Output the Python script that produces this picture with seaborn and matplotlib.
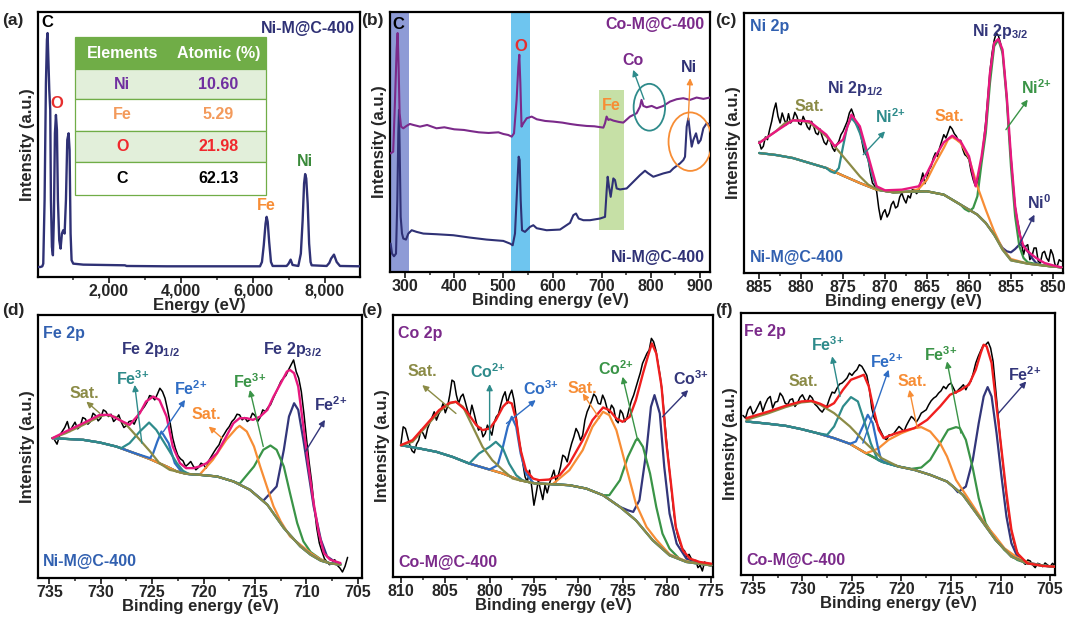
import numpy as np
import matplotlib
matplotlib.use("Agg")
import matplotlib.pyplot as plt
import seaborn as sns
from matplotlib.patches import Ellipse, Rectangle
from matplotlib.ticker import MultipleLocator, FuncFormatter

# ======================= DATA =======================
# (a) EDS spectrum
eds_energy = [37,100,150,176,213,250,278,296,324,343,370,389,417,444,472,500,528,556,583,620,657,694,731,769,806,
              843,880,907,935,963,1009,1287,2444,2490,3600,6195,6250,6300,6350,6380,6410,6450,6500,6547,6936,6990,
              7047,7100,7260,7330,7380,7420,7450,7480,7520,7560,7600,7630,8047,8120,8170,8250,8325,8417,8973]
eds_counts = [30,30,32,40,230,580,710,730,630,560,500,230,90,65,180,430,485,440,230,110,85,130,140,130,230,
              410,430,380,130,50,40,37,35,33,32,32,45,95,160,180,165,105,45,33,33,40,
              52,36,33,70,170,280,308,295,220,100,45,35,33,42,55,67,45,33,32]
eds_elements = ["Ni", "Fe", "O", "C"]
eds_atomic = ["10.60", "5.29", "21.98", "62.13"]

# (b) XPS survey
co_be = [270.8,276,279.7,283,285,287,289,292,296.6,303,310,317,330.5,345,364,380,400,420,432,450,470,490,500,510,517,
         521.7,527,530.5,532.5,534.6,537,540.7,547.5,557.6,568,585,601.7,620,635.6,650,669.5,685,703.4,706.8,710,
         713.6,717,723.7,735,744,757.6,771,778,781,784.7,791.5,801.7,812,825.4,839,852.5,866,879.7,893,906.8,920]
co_int = [355,360,515,665,715,615,475,435,430,437,443,440,435,440,430,433,427,425,422,418,416,418,413,410,405,
          415,515,615,650,565,435,445,460,465,457,452,450,447,443,440,437,436,432,445,465,
          455,457,453,449,447,465,475,495,515,497,493,497,490,497,510,517,520,515,522,518,522]
ni_be = [270.8,273.6,277.6,281.7,284.4,286.4,287.8,289.2,291.2,293.9,296.6,302,306.8,313.6,323.7,337.3,364.4,398.3,
         432.2,466.1,500,513.6,519,523.7,528.5,531.2,533.2,535.3,538,544,554.2,561,567.8,588,615.3,635.6,642.4,
         647.8,653.2,662.7,676.3,696.6,706.8,710.2,712.2,714.9,718.3,723.7,727.1,730.5,737.3,750.8,764.4,778,788.1,
         794.9,805,825.4,839,845.8,859.3,866.1,869.5,872.9,876.3,879.7,883.1,886.4,891.9,896.6,901.4,906.8,913.6,920.3]
ni_int = [85,55,47,55,215,415,485,365,165,115,100,97,115,125,120,115,113,110,
          103,97,93,85,80,115,265,345,335,215,125,120,135,140,131,125,127,147,170,
          175,160,155,155,160,165,245,285,255,225,280,275,250,247,250,270,290,303,
          295,285,295,300,310,325,335,345,435,460,415,375,395,415,385,395,430,445,442]

# (c) Ni 2p (Ni-M@C-400), raw data every 0.25 eV from 885 down to 849
c_raw_x = np.arange(885, 848.9, -0.25)
c_raw_y = [395,372,380,408,400,430,455,488, 510,470,450,480,460,445,478,450,
           458,482,470,448,445,470,455,438, 430,455,440,420,415,432,410,392,
           385,402,395,375,365,385,395,415, 425,440,455,480,492,475,448,440,
           430,395,362,355,340,300,270,262, 245,195,160,180,190,168,180,205,
           215,195,200,228,240,222,210,232, 225,250,250,238,245,275,300,268,
           285,310,320,345,360,350,375,395, 415,405,422,440,432,418,410,395,
           398,372,355,350,340,305,280,262, 270,300,340,395,455,530,605,660,
           698,720,712,690,660,600,525,430, 350,270,200,160,130,90,55,80,
           85,40,50,75,75,35,30,60, 65,45,35,70,55,25,20,40, 35]
c_bg_x = [885,883,881,879,877,875,873,871,869,867,865,863,861,859,858,857,856,855,853,851,849]
c_bg_y = [360,354,345,330,315,292,270,250,242,244,245,235,205,175,150,115,70,38,28,22,17]
c_sat1_x = [885,884,883,882,881,880,879,878,877,876,875,874,873,872,871,870]
c_sat1_y = [390,408,425,448,458,458,450,432,410,380,350,320,290,265,252,246]
c_ni2a_x = [876.5,876,875.5,875,874.5,874,873.5,873,872.5,872,871.5,871,870.5]
c_ni2a_y = [305,300,315,380,440,465,450,420,380,340,290,258,248]
c_sat2_x = [866,865,864,863,862.5,862,861.5,861,860,859,858,857,856,855]
c_sat2_y = [252,280,330,375,400,408,400,390,345,260,190,125,72,42]
c_ni2b_x = [860.5,860,859.5,859,858.5,858,857.5,857,856.5,856,855.5,855,854.5,854,853.5,853]
c_ni2b_y = [192,185,195,230,330,420,570,680,700,660,520,320,170,80,45,32]
c_ni0_x = [856,855.5,855,854.5,854,853.5,853,852.5,852,851.5]
c_ni0_y = [75,65,62,72,85,82,65,45,30,25]
c_env_x = [885,883,881,879,877,876,875,874,873,872,871,870,868,866,865,864,863,862,861,860,859.2,858.5,858,
           857.5,857,856.5,856,855.5,855,854.5,854,853.5,853,852,851,850,849]
c_env_y = [390,425,458,455,415,380,400,475,440,350,260,248,250,260,300,350,392,412,395,350,260,350,440,
           600,690,702,670,530,350,200,120,80,65,45,30,23,17]

# (d) Fe 2p (Ni-M@C-400), raw data every 0.25 eV from 734.5 down to 706
d_raw_x = np.arange(734.5, 705.9, -0.25)
d_raw_y = [415,402,428,440,452,470,440,455, 468,448,455,482,478,462,470,495,
           488,472,480,505,500,485,492,470, 478,490,468,452,458,470,472,462,
           480,498,505,515,528,548,545,535, 552,570,560,540,505,465,420,390,
           368,358,352,335,342,350,336,325, 332,345,340,330,352,365,378,390,
           400,420,432,445,455,470,478,492, 490,475,482,470,476,495,488,470,
           482,505,500,512,520,538,555,572, 590,600,608,625,640,655,620,600,
           560,495,420,350,290,215,150,105, 80,58,48,40,45,55,38,30, 18,35,62]
d_bg_x = [734.7,731.7,730.1,728.5,726.9,725.2,723.6,722.6,721.7,720.4,718.7,717.1,715.5,713.8,712.2,710.6,709.6,708.6,707.7,706.7]
d_bg_y = [420,415,407,395,377,357,335,320,313,310,305,290,265,220,150,95,70,52,44,40]
d_sat1_x = [734.7,733.4,731.7,730.1,729.5,728.5,727.5,726.2,725.2,724.3,723.3,722.6]
d_sat1_y = [420,435,460,485,490,483,460,415,380,345,325,320]
d_fe3a_x = [728,727.2,726.2,725.3,724.6,723.6,722.6,722,721.4]
d_fe3a_y = [390,405,440,467,445,395,345,322,312]
d_fe2a_x = [725.2,724.9,724.5,724.1,723.4,722.8,722.1,721.5]
d_fe2a_y = [360,375,410,440,405,345,317,312]
d_sat2_x = [720.4,719.1,717.8,716.8,716.5,715.8,715.1,714.5,713.8,713.2,712.5,711.6,710.6,709.6,708.6]
d_sat2_y = [310,355,415,450,457,440,395,335,270,215,170,125,100,75,55]
d_fe3b_x = [716.5,715.1,714.2,713.5,712.9,712.2,711.6,710.9,710.3,709.6,708.6]
d_fe3b_y = [283,335,385,398,385,335,255,165,110,78,56]
d_fe2b_x = [714.2,712.9,712.2,711.7,711.2,710.8,710.3,709.8,709.3,708.6,708,707.3,706.7]
d_fe2b_y = [232,275,385,485,525,505,415,315,215,115,65,50,43]
d_env_x = [734.7,733.4,731.7,730.1,729.1,728.2,727.2,726.2,725.6,724.9,724.3,723.6,723,722.3,721.7,721,720.4,
           719.7,718.7,717.8,717.1,716.5,715.8,715.2,714.5,713.8,713.2,712.5,711.9,711.6,711.2,710.8,710.3,
           709.8,709.3,708.8,708.3,707.7,706.7]
d_env_y = [420,440,465,490,490,475,460,495,530,545,535,485,395,345,330,330,335,
           345,375,425,465,480,480,475,485,505,545,585,620,625,615,575,455,
           335,225,135,75,55,45]

# (e) Co 2p (Co-M@C-400), raw data every 0.25 eV from 810 down to 775.5
e_raw_x = np.arange(810, 775.4, -0.25)
e_raw_y = [400,450,445,420,395,378,372,398, 410,440,430,415,445,462,478,495,
           470,488,500,520,492,510,545,590, 585,545,520,540,548,525,500,480,
           515,490,462,440,448,420,430,455, 440,425,462,480,488,515,540,555,
           520,545,560,530,480,420,385,340, 300,285,320,270,215,250,290,260,
           232,275,252,280,300,320,285,305, 330,365,360,345,375,400,420,445,
           432,410,425,470,495,510,528,548, 540,520,518,545,530,505,492,515,
           505,470,462,500,490,465,478,505, 528,545,568,590,612,640,655,670,
           680,715,705,680,640,600,545,470, 395,330,268,200,150,120,100,85,
           78,60,68,55,42,50,28,35, 18,45,40]
e_bg_x = [810,807.9,806,804.2,802.3,800.4,798.5,796.6,794.8,792.9,791,789.1,787.2,785.3,783.5,781.6,779.7,777.8,775.9,775]
e_bg_y = [395,385,375,360,340,325,310,290,280,278,275,265,245,210,170,110,65,45,38,35]
e_sat1_x = [810,808.7,807.2,805.7,804.5,803.8,803,801.9,800.8,799.7,798.5,797.4,796.6]
e_sat1_y = [395,405,450,495,520,525,510,450,390,350,320,295,290]
e_co2a_x = [802.3,801.2,800,799.3,798.5,797.8,797,796.3,795.6]
e_co2a_y = [340,370,390,405,385,340,305,290,284]
e_co3a_x = [800,799.1,798.5,797.96,797.5,797,796.5,795.9,795.1]
e_co3a_y = [322,335,390,450,480,450,370,310,283]
e_sat2_x = [792.9,791,789.5,788.4,787.2,786.5,785.7,785,784.2,783.5,782.3,781.2,779.7,777.8]
e_sat2_y = [278,320,380,450,495,485,440,370,290,220,150,112,68,47]
e_co2b_x = [787.2,786.5,785.3,784.4,783.5,783.3,782.7,781.9,781.2,780.5,779.7,778.6,777.8]
e_co2b_y = [245,245,290,360,410,415,390,310,210,130,85,55,47]
e_co3b_x = [784.4,783.8,783.1,782.3,781.8,781.4,780.8,780.3,779.7,778.9,777.8,776.7]
e_co3b_y = [200,195,230,380,510,545,490,330,190,100,55,45]
e_env_x = [810,808.7,807.2,805.7,804.5,803.8,802.7,801.5,800.8,800,799.3,798.5,797.96,797.5,797,796.5,795.9,
           795.1,794.4,793.3,792.1,791,789.5,788.4,787.2,786.5,785.7,785,784.2,783.5,782.7,782.1,781.7,781.2,
           780.6,780.1,779.5,779,778.2,777.4,776.3,775]
e_env_y = [395,410,455,500,522,525,500,455,440,445,470,510,525,520,470,380,320,
           295,290,292,305,340,410,470,508,500,475,465,480,530,610,665,700,670,
           570,410,270,150,80,55,45,40]

# (f) Fe 2p (Co-M@C-400), raw data every 0.25 eV from 736 down to 704.5
f_raw_x = np.arange(736, 704.4, -0.25)
f_raw_y = [478,470,495,505,482,490,505,520, 490,512,528,535,500,518,520,545,
           535,515,510,525,528,505,515,532, 540,525,520,538,530,512,505,495,
           488,500,508,530,548,545,560,572, 575,582,590,605,598,608,615,630,
           625,612,598,560,500,470,455,440, 425,410,405,420,418,425,435,445,
           438,430,448,462,475,468,458,470, 485,490,495,510,522,530,535,545,
           552,565,558,570,575,560,545,555, 562,570,555,572,580,605,635,655,
           672,688,690,698,680,640,560,480, 400,330,262,200,150,110,82,65,
           52,40,32,45,42,30,22,35, 32,25,36,30,25,35,28]
f_bg_x = [735.65,733.4,731.7,730.1,728.5,726.8,725.2,723.6,722,720.3,718.7,717.1,715.4,713.8,712.2,710.5,708.9,707.3,705.7,704.5]
f_bg_y = [460,453,447,437,425,410,393,365,340,325,315,300,280,240,175,105,55,35,28,25]
f_sat1_x = [735.65,733.4,731.7,730.1,729.1,728.2,726.8,725.2,723.6,722,721,720.3]
f_sat1_y = [465,485,503,517,520,510,485,445,395,350,335,325]
f_fe3a_x = [727.5,726.8,725.9,725.1,724.4,723.8,723.1,722.4,721.9]
f_fe3a_y = [420,445,505,533,520,465,395,345,338]
f_fe2a_x = [725.2,724.6,723.9,723.4,722.9,722.4,722.1,721.8]
f_fe2a_y = [393,400,445,480,455,385,350,338]
f_sat2_x = [723.6,722.9,722.3,721.3,720,718.7,718,717.1,716.1,715.4,714.5,713.5,712.5,711.5,710.5,709.6,708.3,707]
f_sat2_y = [365,372,380,405,425,440,443,430,395,355,285,240,195,150,115,80,52,35]
f_fe3b_x = [719,718,717.1,716.1,715.3,714.5,714.1,713.5,712.8,712.2,711.5,710.5,709.6,708.3]
f_fe3b_y = [318,322,345,395,435,443,440,405,320,230,155,108,75,45]
f_fe2b_x = [714.8,714.3,713.5,712.8,712.2,711.7,711.3,710.9,710.4,709.9,709.4,708.9,708.3,707.3]
f_fe2b_y = [265,248,265,345,455,535,563,535,425,295,175,95,55,38]
f_env_x = [735.65,733.4,731.7,730.1,729.1,728.2,727.5,726.8,725.9,725.1,724.2,723.8,723.3,722.8,722.3,721.8,
           721,720,718.7,717.4,716.1,715.1,714.1,713.2,712.5,712,711.7,711.4,710.9,710.4,709.9,709.4,708.9,
           708.3,707.3,705.7,704.5]
f_env_y = [470,490,507,520,522,513,503,515,555,585,595,600,565,495,435,410,
           420,430,440,465,505,540,553,570,615,665,690,685,635,505,375,245,135,
           65,35,27,25]

# ======================= STYLE =======================
sns.set_style("ticks")
plt.rcParams.update({
    "font.family": ["Liberation Sans", "DejaVu Sans"],
    "font.weight": "bold",
    "axes.labelweight": "bold",
    "font.size": 11,
    "mathtext.fontset": "custom",
    "mathtext.rm": "Liberation Sans:bold",
    "mathtext.bf": "Liberation Sans:bold",
    "mathtext.it": "Liberation Sans:bold:italic",
    "mathtext.sf": "Liberation Sans:bold",
})

NAVY = "#2F3175"; PURPLE = "#7B2A8A"; OLIVE = "#8B8B46"; TEAL = "#2E8B8B"
BLUE = "#2F6DC4"; ORANGE = "#F78D35"; GREEN = "#3A9447"; PINK = "#E8187F"
RED = "#F01F1F"; LBLUE = "#3160B0"; DNAVY = "#33367A"
FS = 11.5      # annotation size
TFS = 11.5     # tick label size
LFS = 12       # axis label size

W, H = 1065, 617
fig = plt.figure(figsize=(W / 100, H / 100), dpi=100)


def add_ax(l, t, r, b):
    return fig.add_axes([l / W, 1 - b / H, (r - l) / W, (b - t) / H])


def draw(ax, x, y, color, lw=1.6, z=3):
    sns.lineplot(x=np.asarray(x, float), y=np.asarray(y, float), ax=ax, color=color,
                 linewidth=lw, estimator=None, sort=False, zorder=z, legend=False)


def comp(bx, by, px, py):
    bx, by, px, py = (np.asarray(v, float) for v in (bx, by, px, py))
    m = (bx > px.max()) | (bx < px.min())
    x = np.concatenate([bx[m], px]); y = np.concatenate([by[m], py])
    o = np.argsort(x)
    return x[o], y[o]


def setup(ax, xlim, ylim, major, minor, xlabel):
    ax.set_xlim(*xlim); ax.set_ylim(*ylim)
    ax.xaxis.set_major_locator(MultipleLocator(major))
    ax.xaxis.set_minor_locator(MultipleLocator(minor))
    ax.set_yticks([])
    ax.tick_params(axis="x", which="major", direction="out", length=4, width=1.3, labelsize=TFS, pad=1)
    ax.tick_params(axis="x", which="minor", direction="out", length=2.5, width=1.1)
    for lab in ax.get_xticklabels():
        lab.set_fontweight("bold")
    ax.set_xlabel(xlabel, fontsize=LFS, fontweight="bold", labelpad=-1)
    ax.set_ylabel("Intensity (a.u.)", fontsize=LFS, fontweight="bold", labelpad=2)
    for s in ax.spines.values():
        s.set_linewidth(1.6); s.set_color("black"); s.set_visible(True)


def arrow(ax, tail, head, color, lw=1.0):
    ax.annotate("", xy=head, xytext=tail,
                arrowprops=dict(arrowstyle="-|>", color=color, lw=lw, mutation_scale=9,
                                shrinkA=0, shrinkB=0), zorder=6)


def txt(ax, x, y, s, color, size=FS, ha="center", va="center", trans=None):
    kw = dict(color=color, fontsize=size, fontweight="bold", ha=ha, va=va, zorder=7)
    if trans is not None:
        kw["transform"] = trans
    ax.text(x, y, s, **kw)


def ion(el, charge):
    return el + r"$^{" + charge[:-1] + "{" + charge[-1] + "}}$"


# ======================= (a) =======================
axa = add_ax(38, 12, 360, 277)
draw(axa, eds_energy, eds_counts, NAVY, lw=1.7)
setup(axa, (30, 8973), (0, 793), 2000, 1000, "Energy (eV)")
axa.xaxis.set_major_formatter(FuncFormatter(lambda v, p: f"{int(v):,}"))
for lab in axa.get_xticklabels():
    lab.set_fontweight("bold")
txt(axa, 296, 762, "C", "black", 12)
txt(axa, 565, 518, "O", "#E62E2E", 12)
txt(axa, 6380, 215, "Fe", ORANGE)
txt(axa, 7445, 345, "Ni", "#3A8A3A")
txt(axa, 0.984, 0.936, "Ni-M@C-400", NAVY, ha="right", trans=axa.transAxes)

tx0, tx1 = 0.114, 0.707
edges = [0.905, 0.784, 0.672, 0.551, 0.433, 0.311]
fills = ["#70AD47", "#E2EFDA", "white", "#E2EFDA", "white"]
for i in range(5):
    axa.add_patch(Rectangle((tx0, edges[i + 1]), tx1 - tx0, edges[i] - edges[i + 1],
                            transform=axa.transAxes, facecolor=fills[i], edgecolor="#70AD47",
                            lw=0.9, zorder=5))
colc1, colc2 = 0.262, 0.56
hy = (edges[0] + edges[1]) / 2
txt(axa, colc1, hy, "Elements", "white", 11.5, trans=axa.transAxes)
txt(axa, colc2, hy, "Atomic (%)", "white", 11.5, trans=axa.transAxes)
el_colors = ["#7030A0", "#F39A5B", "#F0282D", "black"]
for i, (el, at) in enumerate(zip(eds_elements, eds_atomic)):
    yy = (edges[i + 1] + edges[i + 2]) / 2
    txt(axa, colc1, yy, el, el_colors[i], 11.5, trans=axa.transAxes)
    txt(axa, colc2, yy, at, el_colors[i], 11.5, trans=axa.transAxes)

# ======================= (b) =======================
axb = add_ax(390, 12, 710, 272)
axb.axvspan(269.5, 308, color="#8E9BD6", zorder=0, lw=0)
axb.axvspan(516, 554, color="#6EC5EF", zorder=0, lw=0)
axb.add_patch(Rectangle((695, 127), 50, 418, facecolor="#C6E0A6", edgecolor="none", zorder=0))
draw(axb, ni_be, ni_int, NAVY, lw=1.5)
draw(axb, co_be, co_int, PURPLE, lw=1.5)
setup(axb, (269.5, 920.3), (0, 778), 100, 50, "Binding energy (eV)")
axb.add_patch(Ellipse((797, 493), 64, 140, fill=False, ec=TEAL, lw=1.3, zorder=5))
axb.add_patch(Ellipse((880, 390), 88, 175, fill=False, ec=ORANGE, lw=1.3, zorder=5))
arrow(axb, (786, 517), (764, 605), TEAL)
arrow(axb, (876, 455), (880, 580), ORANGE)
txt(axb, 286.4, 740, "C", "black", 12)
txt(axb, 535, 675, "O", "#E62E2E", 12)
txt(axb, 764, 633, "Co", PURPLE)
txt(axb, 878, 612, "Ni", NAVY)
txt(axb, 720, 497, "Fe", ORANGE)
txt(axb, 0.984, 0.95, "Co-M@C-400", PURPLE, ha="right", trans=axb.transAxes)
txt(axb, 0.984, 0.055, "Ni-M@C-400", NAVY, ha="right", trans=axb.transAxes)

# ======================= (c) =======================
axc = add_ax(744, 13, 1063, 273)
draw(axc, c_raw_x, c_raw_y, "black", lw=1.1, z=2)
for px, py, col in [(c_ni0_x, c_ni0_y, DNAVY), (c_ni2b_x, c_ni2b_y, GREEN),
                    (c_sat2_x, c_sat2_y, ORANGE), (c_ni2a_x, c_ni2a_y, TEAL),
                    (c_sat1_x, c_sat1_y, OLIVE)]:
    x, y = comp(c_bg_x, c_bg_y, px, py)
    draw(axc, x, y, col)
draw(axc, c_env_x, c_env_y, PINK, lw=1.7, z=4)
setup(axc, (886.8, 848.8), (0, 780), 5, 2.5, "Binding energy (eV)")
txt(axc, 0.019, 0.949, "Ni 2p", LBLUE, ha="left", trans=axc.transAxes)
txt(axc, 0.019, 0.058, "Ni-M@C-400", LBLUE, ha="left", trans=axc.transAxes)
txt(axc, 856.3, 725, r"Ni 2p$_{3/2}$", DNAVY)
txt(axc, 873.6, 555, r"Ni 2p$_{1/2}$", DNAVY)
txt(axc, 879, 500, "Sat.", OLIVE)
txt(axc, 869.4, 470, ion("Ni", "2+"), TEAL)
txt(axc, 862.3, 470, "Sat.", ORANGE)
txt(axc, 852, 555, ion("Ni", "2+"), GREEN)
txt(axc, 851.6, 210, r"Ni$^{0}$", DNAVY)
arrow(axc, (872.6, 355), (870, 425), TEAL)
arrow(axc, (855.6, 430), (853, 520), GREEN)
arrow(axc, (854, 85), (852.2, 175), DNAVY)

# ======================= (d) =======================
axd = add_ax(38, 315, 362, 578)
draw(axd, d_raw_x, d_raw_y, "black", lw=1.1, z=2)
for px, py, col in [(d_fe2b_x, d_fe2b_y, DNAVY), (d_fe3b_x, d_fe3b_y, GREEN),
                    (d_sat2_x, d_sat2_y, ORANGE), (d_fe2a_x, d_fe2a_y, BLUE),
                    (d_fe3a_x, d_fe3a_y, TEAL), (d_sat1_x, d_sat1_y, OLIVE)]:
    x, y = comp(d_bg_x, d_bg_y, px, py)
    draw(axd, x, y, col)
draw(axd, d_env_x, d_env_y, PINK, lw=1.7, z=4)
setup(axd, (736.1, 704.6), (0, 790), 5, 2.5, "Binding energy (eV)")
txt(axd, 0.015, 0.93, "Fe 2p", LBLUE, ha="left", trans=axd.transAxes)
txt(axd, 0.015, 0.063, "Ni-M@C-400", LBLUE, ha="left", trans=axd.transAxes)
txt(axd, 725.2, 685, r"Fe 2p$_{1/2}$", DNAVY)
txt(axd, 711.4, 685, r"Fe 2p$_{3/2}$", DNAVY)
txt(axd, 726.9, 600, ion("Fe", "3+"), TEAL)
txt(axd, 721.3, 570, ion("Fe", "2+"), BLUE)
txt(axd, 731.6, 555, "Sat.", OLIVE)
txt(axd, 715.5, 590, ion("Fe", "3+"), GREEN)
txt(axd, 719.7, 490, "Sat.", ORANGE)
txt(axd, 707.7, 520, ion("Fe", "2+"), DNAVY)
arrow(axd, (730.1, 495), (731.4, 530), OLIVE)
arrow(axd, (726, 405), (726.7, 580), TEAL)
arrow(axd, (723.9, 440), (721.8, 535), BLUE)
arrow(axd, (718.2, 420), (719.5, 455), ORANGE)
arrow(axd, (714.2, 395), (715.5, 565), GREEN)
arrow(axd, (710.1, 380), (708.2, 475), DNAVY)

# ======================= (e) =======================
axe = add_ax(393, 315, 713, 577)
draw(axe, e_raw_x, e_raw_y, "black", lw=1.1, z=2)
for px, py, col in [(e_co3b_x, e_co3b_y, DNAVY), (e_co2b_x, e_co2b_y, GREEN),
                    (e_sat2_x, e_sat2_y, ORANGE), (e_co3a_x, e_co3a_y, BLUE),
                    (e_co2a_x, e_co2a_y, TEAL), (e_sat1_x, e_sat1_y, OLIVE)]:
    x, y = comp(e_bg_x, e_bg_y, px, py)
    draw(axe, x, y, col)
draw(axe, e_env_x, e_env_y, RED, lw=1.7, z=4)
setup(axe, (810.9, 774.8), (0, 785), 5, 2.5, "Binding energy (eV)")
txt(axe, 0.016, 0.93, "Co 2p", PURPLE, ha="left", trans=axe.transAxes)
txt(axe, 0.016, 0.057, "Co-M@C-400", PURPLE, ha="left", trans=axe.transAxes)
txt(axe, 807.6, 615, "Sat.", OLIVE)
txt(axe, 800.2, 615, ion("Co", "2+"), TEAL)
txt(axe, 794.2, 565, ion("Co", "3+"), BLUE)
txt(axe, 789.5, 565, "Sat.", ORANGE)
txt(axe, 785.7, 625, ion("Co", "2+"), GREEN)
txt(axe, 777.3, 595, ion("Co", "3+"), DNAVY)
arrow(axe, (803.8, 490), (807.6, 575), OLIVE)
arrow(axe, (800, 410), (800, 578), TEAL)
arrow(axe, (798.1, 460), (794.8, 530), BLUE)
arrow(axe, (787.6, 475), (789.5, 550), ORANGE)
arrow(axe, (783.3, 410), (785, 600), GREEN)
arrow(axe, (780.5, 480), (777.6, 560), DNAVY)

# ======================= (f) =======================
axf = add_ax(741, 313, 1055, 575)
draw(axf, f_raw_x, f_raw_y, "black", lw=1.1, z=2)
for px, py, col in [(f_fe2b_x, f_fe2b_y, DNAVY), (f_fe3b_x, f_fe3b_y, GREEN),
                    (f_sat2_x, f_sat2_y, ORANGE), (f_fe2a_x, f_fe2a_y, BLUE),
                    (f_fe3a_x, f_fe3a_y, TEAL), (f_sat1_x, f_sat1_y, OLIVE)]:
    x, y = comp(f_bg_x, f_bg_y, px, py)
    draw(axf, x, y, col)
draw(axf, f_env_x, f_env_y, RED, lw=1.7, z=4)
setup(axf, (736.2, 704.5), (0, 785), 5, 2.5, "Binding energy (eV)")
txt(axf, 0.008, 0.93, "Fe 2p", PURPLE, ha="left", trans=axf.transAxes)
txt(axf, 0.018, 0.057, "Co-M@C-400", PURPLE, ha="left", trans=axf.transAxes)
txt(axf, 727.5, 690, ion("Fe", "3+"), TEAL)
txt(axf, 721.5, 640, ion("Fe", "2+"), BLUE)
txt(axf, 729.9, 580, "Sat.", OLIVE)
txt(axf, 718.9, 580, "Sat.", ORANGE)
txt(axf, 716.1, 660, ion("Fe", "3+"), GREEN)
txt(axf, 707.6, 600, ion("Fe", "2+"), DNAVY)
arrow(axf, (726.2, 535), (727, 655), TEAL)
arrow(axf, (723.9, 395), (721.3, 615), BLUE)
arrow(axf, (718.4, 440), (719.2, 555), ORANGE)
arrow(axf, (714, 425), (715.4, 640), GREEN)
arrow(axf, (710.2, 485), (707.4, 580), DNAVY)

# panel labels
for lab, px, py in [("(a)", 2, 20), ("(b)", 361, 20), ("(c)", 715, 20),
                    ("(d)", 2, 310), ("(e)", 361, 310), ("(f)", 715, 310)]:
    fig.text(px / W, 1 - py / H, lab, fontsize=12.5, fontweight="bold", ha="left", va="center")

fig.savefig("out.png", dpi=100)
